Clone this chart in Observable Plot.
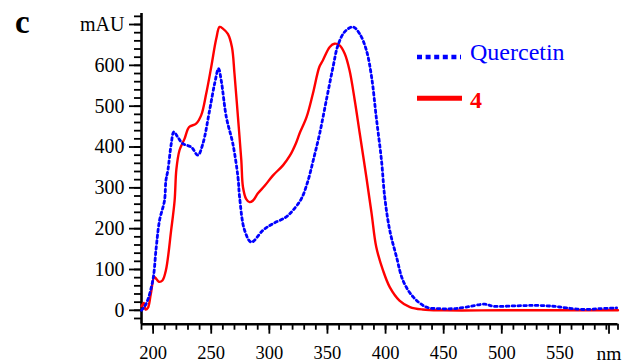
<!DOCTYPE html>
<html>
<head>
<meta charset="utf-8">
<script src="https://cdn.jsdelivr.net/npm/d3@7"></script>
<script src="https://cdn.jsdelivr.net/npm/@observablehq/plot@0.6"></script>
<style>
  html, body { margin: 0; padding: 0; background: #fff; }
  #chart { width: 635px; height: 364px; }
  #chart svg, #chart svg text { font-family: "Liberation Serif", serif !important; }
</style>
</head>
<body>
<div id="chart"></div>
<script>
// Compound 4 (solid red)
const wl4 = [190,192,193.5,195.5,198,201,203,205,208,211,215.5,218.5,220,222.7,227,231,237,241.4,245.7,250,254.3,257.2,260,264.3,267.8,270,273,275.9,277.3,280,283,286,290,296,303,311.7,317.5,323,326,332,337.5,343,346,352,356,360.5,364.8,369,373.5,377.8,383.5,388,392,397.8,403.6,412,421,432,450,500,550,600];
const abs4 = [10,18,2,6,40,82,76,70,73,98,196,269,345,392,420,449,457,478,531,596,665,694,690,677,645,580,473,367,302,273,265,269,286,305,330,355,378,410,433,473,531,596,612,645,653,649,629,588,514,433,326,237,155,98,57,24,8,2,0,0,0,0];

// Quercetin (dotted blue)
const wlQ = [190,194,199.7,202.7,205.5,209.8,211,212.7,215.6,217.8,221.3,225.6,232.8,238.5,242.8,248.6,252.9,256.3,258.6,263,268.6,273,274.4,278.7,284.5,294.5,303,314.6,320.3,327.5,333,338,343.3,349,354.8,359,364.8,372,377.8,383.5,388,392,396.5,399.3,403.6,409.4,415,423.7,435,446.7,458,469.7,485.4,492.6,512.4,529.5,544,555.6,570,584,598.8];
const absQ = [0,16,73,155,220,269,318,343,408,437,424,408,400,380,408,490,555,592,563,473,408,326,277,196,167,196,212,229,245,273,315,370,433,514,596,649,682,694,677,637,571,473,367,277,196,131,73,33,8,4,4,8,15,10,11,12,10,6,2,4,6];

// Axis ticks and labels
const xMajor = [200,250,300,350,400,450,500,550];
const xMinor = d3.range(190, 601, 10);
const yMajor = [0,100,200,300,400,500,600,700];
const yMinor = d3.range(-20, 721, 20);
const yTopLabel = "mAU";
const xEndLabel = "nm";
const seriesNames = ["Quercetin", "4"];
const panelLabel = "c";

const BLUE = "#0000ff", RED = "#ff0000";
const FONT = "Liberation Serif, serif";

const chart = Plot.plot({
  width: 635,
  height: 364,
  marginLeft: 141,
  marginRight: 17.5,
  marginTop: 13,
  marginBottom: 40.3,
  style: { fontFamily: FONT, background: "#fff", color: "#000", overflow: "visible" },
  x: { domain: [190, 600] },
  y: { domain: [-34, 727] },
  marks: [
    Plot.axisY(yMinor, { tickSize: 7, tickFormat: () => "", strokeWidth: 1.8, label: null }),
    Plot.axisY(yMajor, { tickSize: 12, tickPadding: 5, strokeWidth: 1.8, fontSize: 20, fontFamily: FONT, label: null,
      tickFormat: d => d === 700 ? yTopLabel : String(d) }),
    Plot.axisX(xMinor, { tickSize: 6, tickFormat: () => "", strokeWidth: 1.8, label: null }),
    Plot.axisX(xMajor, { tickSize: 10, tickPadding: 12, strokeWidth: 1.8, fontSize: 18.5, fontFamily: FONT, label: null }),
    Plot.axisX([600], { tickSize: 10, tickPadding: 12, strokeWidth: 1.8, fontSize: 19.5, fontFamily: FONT, dx: -9, label: null,
      tickFormat: () => xEndLabel }),
    Plot.ruleX([190], { stroke: "#000", strokeWidth: 2.6 }),
    Plot.ruleY([-34], { stroke: "#000", strokeWidth: 2.6 }),
    Plot.line(wl4, { x: wl4, y: (d, i) => abs4[i], stroke: RED, strokeWidth: 2.4, curve: "catmull-rom" }),
    Plot.line(wlQ, { x: wlQ, y: (d, i) => absQ[i], stroke: BLUE, strokeWidth: 2.8, strokeDasharray: "2.6,3.2", curve: "catmull-rom" })
  ]
});

document.getElementById("chart").appendChild(chart);

const svg = d3.select(chart);
svg.selectAll("text").attr("font-family", FONT).style("font-family", FONT);

// Legend and panel letter, drawn into the same SVG
const g = svg.append("g").attr("font-family", FONT).attr("text-anchor", "start");
g.append("line").attr("x1", 417).attr("x2", 461).attr("y1", 57).attr("y2", 57)
  .attr("stroke", BLUE).attr("stroke-width", 4.5).attr("stroke-dasharray", "5,3.6");
g.append("text").attr("x", 470).attr("y", 60).attr("fill", BLUE).attr("font-size", 24).text(seriesNames[0]);
g.append("line").attr("x1", 417).attr("x2", 462).attr("y1", 98.3).attr("y2", 98.3)
  .attr("stroke", RED).attr("stroke-width", 5);
g.append("text").attr("x", 470).attr("y", 108).attr("fill", RED).attr("font-size", 24)
  .attr("font-weight", "bold").text(seriesNames[1]);
g.append("text").attr("x", 15).attr("y", 33).attr("fill", "#000").attr("font-size", 33)
  .attr("font-weight", "bold").text(panelLabel);
</script>
</body>
</html>
